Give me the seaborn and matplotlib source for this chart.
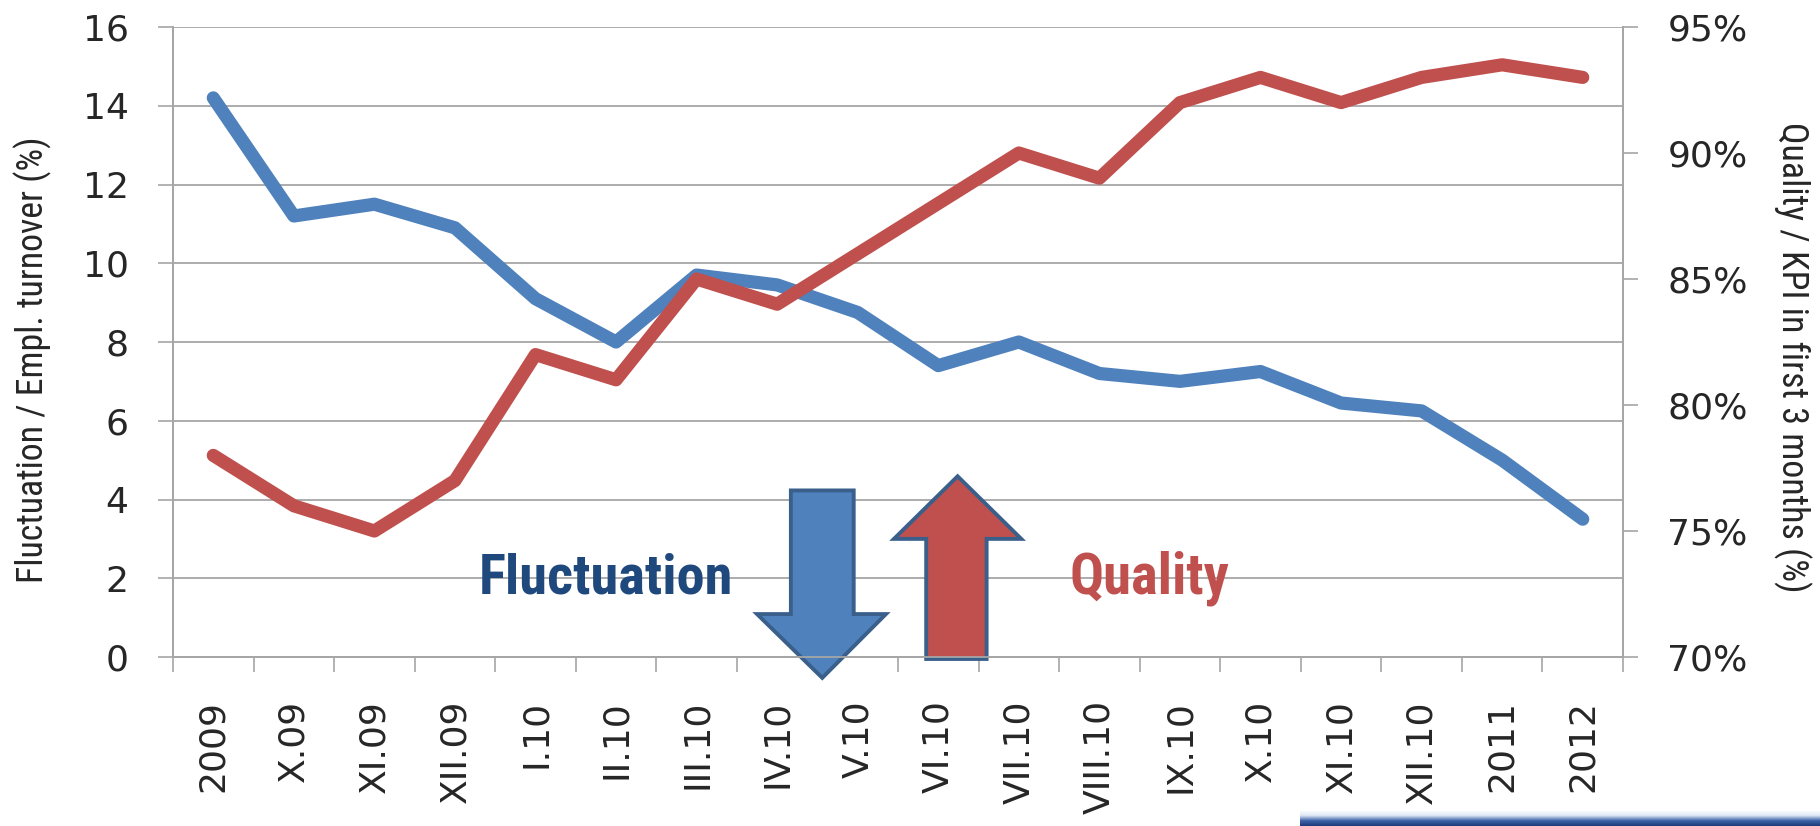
import numpy as np
import pandas as pd
import matplotlib
matplotlib.use("Agg")
import matplotlib.pyplot as plt
import seaborn as sns
from matplotlib import font_manager
from matplotlib.patches import Polygon
from matplotlib.ticker import FuncFormatter, FixedLocator
from matplotlib.colors import LinearSegmentedColormap

# ---------------- data ----------------
categories = ["2009", "X.09", "XI.09", "XII.09", "I.10", "II.10", "III.10", "IV.10",
              "V.10", "VI.10", "VII.10", "VIII.10", "IX.10", "X.10", "XI.10",
              "XII.10", "2011", "2012"]
fluctuation = [14.2, 11.2, 11.5, 10.9, 9.1, 8.0, 9.7, 9.45, 8.75, 7.4, 8.0, 7.2,
               7.0, 7.25, 6.45, 6.25, 5.0, 3.5]
quality = [78, 76, 75, 77, 82, 81, 85, 84, 86, 88, 90, 89, 92, 93, 92, 93, 93.5, 93]
left_ticks = [0, 2, 4, 6, 8, 10, 12, 14, 16]
right_ticks = [70, 75, 80, 85, 90, 95]

BLUE = "#4F81BD"
RED = "#C0504D"
EDGE = "#3A5F8B"
GRID = "#a6a6a6"

sns.set_theme(style="white")
plt.rcParams['font.family'] = ['DejaVu Sans']

avail = {f.name for f in font_manager.fontManager.ttflist}
NARROW = dict(family='Liberation Sans')
for cand in ['Liberation Sans Narrow', 'Roboto Condensed', 'Open Sans Condensed']:
    if cand in avail:
        NARROW = dict(family=cand)
        break

fig = plt.figure(figsize=(18.2, 8.26), dpi=100)
ax = fig.add_axes([173 / 1820, 1 - 657 / 826, 1450 / 1820, 630 / 826])
ax2 = ax.twinx()

df = pd.DataFrame({"pos": np.arange(len(categories)), "cat": categories,
                   "fluct": fluctuation, "qual": quality})

sns.lineplot(data=df, x="pos", y="fluct", ax=ax, color=BLUE, lw=9.5,
             solid_capstyle="round", solid_joinstyle="round", legend=False, zorder=3)
sns.lineplot(data=df, x="pos", y="qual", ax=ax2, color=RED, lw=9.5,
             solid_capstyle="round", solid_joinstyle="round", legend=False, zorder=3)

ax.set_xlim(-0.5, len(categories) - 0.5)
ax.set_ylim(0, 16)
ax2.set_ylim(70, 95)

ax.set_yticks(left_ticks)
ax2.set_yticks(right_ticks)
ax2.yaxis.set_major_formatter(FuncFormatter(lambda v, p: f"{v:.0f}%"))

ax.set_xticks(df["pos"])
ax.set_xticklabels(categories, rotation=90)
ax.xaxis.set_minor_locator(FixedLocator(np.arange(-0.5, len(categories), 1.0)))

ax.tick_params(axis="x", which="major", length=0, pad=31, labelsize=26, bottom=True)
ax.tick_params(axis="x", which="minor", length=11, width=1.2, color=GRID,
               direction="out", bottom=True)
ax.tick_params(axis="y", which="major", length=11, width=1.2, color=GRID,
               direction="out", pad=21, labelsize=26, left=True)
ax2.tick_params(axis="y", which="major", length=11, width=1.2, color=GRID,
                direction="out", pad=21, labelsize=26, right=True)

ax.grid(axis="y", color=GRID, lw=1.3)
ax.grid(axis="x", visible=False)
ax2.grid(False)

for a in (ax, ax2):
    a.spines["top"].set_visible(False)
    for s in ("left", "right", "bottom"):
        a.spines[s].set_color(GRID)
        a.spines[s].set_linewidth(1.3)

ax.set_xlabel("")
ylab_l = ax.set_ylabel("Fluctuation / Empl. turnover (%)", fontsize=20,
                       ha="center", va="center", **NARROW)
ax.yaxis.set_label_coords(-0.097, 0.472)
ylab_r = ax2.set_ylabel("Quality / KPI in first 3 months (%)", fontsize=20,
                        rotation=270, ha="center", va="center", **NARROW)
ax2.yaxis.set_label_coords(1.117, 0.476)

# ---------------- annotation arrows ----------------
down_arrow = [(7.17, 4.23), (7.95, 4.23), (7.95, 1.09), (8.35, 1.09),
              (7.56, -0.53), (6.75, 1.09), (7.17, 1.09)]
up_arrow = [(8.85, -0.05), (9.60, -0.05), (9.60, 3.0), (10.03, 3.0),
            (9.24, 4.59), (8.45, 3.0), (8.85, 3.0)]
ax.add_patch(Polygon(down_arrow, closed=True, facecolor=BLUE, edgecolor=EDGE,
                     lw=2.8, clip_on=False, zorder=6, joinstyle="miter"))
ax.add_patch(Polygon(up_arrow, closed=True, facecolor=RED, edgecolor=EDGE,
                     lw=2.8, clip_on=False, zorder=6, joinstyle="miter"))

big = dict(fontsize=34, fontweight="bold", va="baseline", ha="center", zorder=7)
t_f = ax.text(4.87, 1.6, "Fluctuation", color="#1F497D", **big, **NARROW)
t_q = ax.text(11.62, 1.6, "Quality", color=RED, **big, **NARROW)

# fit text sizes to the measured extents of the reference
fig.canvas.draw()
r = fig.canvas.get_renderer()
for t, target, horiz in ((ylab_l, 445, False), (ylab_r, 470, False),
                         (t_f, 254, True), (t_q, 160, True)):
    bb = t.get_window_extent(r)
    length = bb.width if horiz else bb.height
    t.set_fontsize(t.get_fontsize() * target / length)

# ---------------- slide decoration (bottom right) ----------------
deco = fig.add_axes([1300 / 1820, 0, 520 / 1820, 16 / 826])
grad = np.linspace(0, 1, 50)[:, None] * np.ones((1, 200))
cmap = LinearSegmentedColormap.from_list("d", ["#1E3A7A", "#3D63A8", "#dfe8f5", "#ffffff"])
deco.imshow(grad, aspect="auto", cmap=cmap, origin="lower")
deco.set_axis_off()

fig.savefig("out.png", dpi=100)
